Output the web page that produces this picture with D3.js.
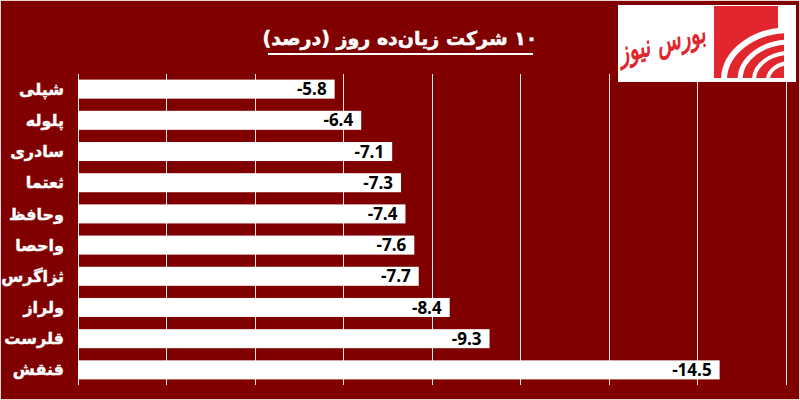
<!DOCTYPE html>
<html><head><meta charset="utf-8">
<script src="https://cdn.jsdelivr.net/npm/d3@7"></script>
<style>html,body{margin:0;padding:0;background:#800000;}svg{display:block;}</style>
</head><body>
<svg id="c" width="800" height="400"></svg>
<script>
const categories = ["شپلی","پلوله","سادری","ثعتما","وحافظ","واحصا","ثزاگرس","ولراز","قلرست","قنقش"];
const values = [-5.8,-6.4,-7.1,-7.3,-7.4,-7.6,-7.7,-8.4,-9.3,-14.5];
const tickValues = [0,-2,-4,-6,-8,-10,-12,-14,-16];
const title = "۱۰ شرکت زیان‌ده روز (درصد)";
const logoText = "بورس نیوز";

const svg = d3.select("#c");
const W = 800, H = 400;
svg.append("rect").attr("x",0.5).attr("y",0.5).attr("width",W-1).attr("height",H-1)
  .attr("fill","#800000").attr("stroke","#ead6d6").attr("stroke-width",1);

const x = d3.scaleLinear().domain([0,-16]).range([78,786]);
const y = d3.scaleBand().domain(categories).range([74,385]).paddingInner(0.39).paddingOuter(0.18);

// gridlines
svg.append("g").selectAll("line").data(tickValues).join("line")
  .attr("x1",d=>x(d)).attr("x2",d=>x(d)).attr("y1",74).attr("y2",385)
  .attr("stroke","#f4e8e8").attr("stroke-width",1).attr("shape-rendering","crispEdges");

// bars
svg.append("g").selectAll("rect").data(values).join("rect")
  .attr("x",x(0)).attr("y",(d,i)=>y(categories[i]))
  .attr("width",d=>x(d)-x(0)).attr("height",y.bandwidth())
  .attr("fill","#ffffff");

// value labels
svg.append("g").selectAll("text").data(values).join("text")
  .attr("x",d=>x(d)-8).attr("y",(d,i)=>y(categories[i])+y.bandwidth()/2)
  .attr("dy","0.36em").attr("text-anchor","end")
  .attr("font-family","'Open Sans', sans-serif").attr("font-weight","bold").attr("font-size",17)
  .attr("fill","#000").text(d=>d.toFixed(1));

// category labels
svg.append("g").selectAll("text").data(categories).join("text")
  .attr("x",64).attr("y",d=>y(d)+y.bandwidth()/2)
  .attr("dy","0.35em").attr("text-anchor","end")
  .attr("font-family","'DejaVu Sans', sans-serif").attr("font-weight","bold").attr("font-size",16)
  .attr("fill","#ffffff").attr("stroke","#ffffff").attr("stroke-width",0.4).text(d=>d);

// title
svg.append("text").attr("x",400).attr("y",45).attr("text-anchor","middle")
  .attr("font-family","'DejaVu Sans', sans-serif").attr("font-weight","bold").attr("font-size",19)
  .attr("fill","#ffffff").attr("stroke","#ffffff").attr("stroke-width",0.5)
  .attr("direction","rtl").text(title);
svg.append("line").attr("x1",268).attr("x2",533).attr("y1",54).attr("y2",54)
  .attr("stroke","#ffffff").attr("stroke-width",2);

// logo
const lg = svg.append("g");
lg.append("rect").attr("x",618).attr("y",5).attr("width",178).attr("height",77).attr("fill","#ffffff");
lg.append("defs").append("clipPath").attr("id","lc").append("rect")
  .attr("x",714).attr("y",6).attr("width",70).attr("height",72);
const lr = lg.append("g").attr("clip-path","url(#lc)");
lr.append("rect").attr("x",714).attr("y",6).attr("width",64).attr("height",72).attr("fill","#e1262d");
lr.append("rect").attr("x",778).attr("y",28).attr("width",8).attr("height",50).attr("fill","#e1262d");
const rings = [[66,50,6],[50,38,5],[36,27,4],[22,17,4]];
rings.forEach(r=>{
  lr.append("ellipse").attr("cx",790).attr("cy",80).attr("rx",r[0]).attr("ry",r[1])
    .attr("fill","none").attr("stroke","#ffffff").attr("stroke-width",r[2]);
});
lg.append("text").attr("x",0).attr("y",0).attr("text-anchor","middle")
  .attr("font-family","'DejaVu Sans', sans-serif").attr("font-weight","bold").attr("font-style","italic")
  .attr("font-size",20).attr("fill","#e1262d")
  .attr("transform","translate(664,52) rotate(-14) scale(1,1.5)").text(logoText);
</script>
</body></html>
